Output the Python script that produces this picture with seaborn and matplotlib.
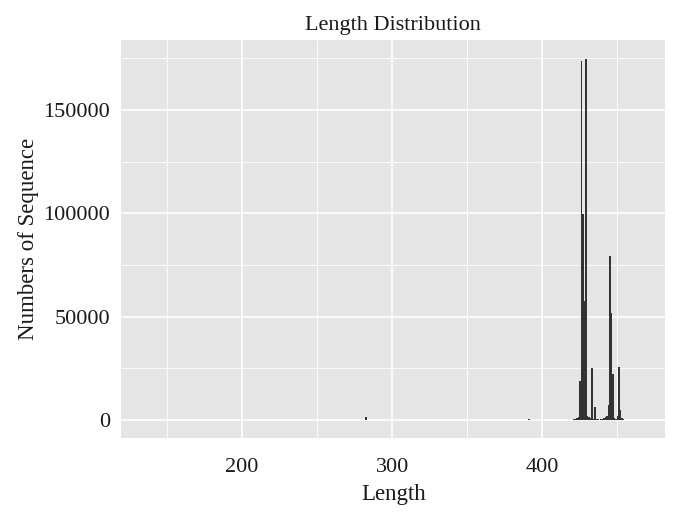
import matplotlib
matplotlib.use("Agg")
import matplotlib.pyplot as plt
import seaborn as sns
import pandas as pd
from matplotlib.ticker import MultipleLocator

# ---- data ----
lengths = [137, 141, 146, 150, 153, 157, 161, 164, 168, 171, 175, 179, 182, 186,
           190, 193, 197, 201, 204, 208, 212, 215, 219, 223, 226, 230, 234, 237,
           241, 245, 249, 252, 256, 260, 264, 268, 271, 275, 279, 282, 283, 286, 290,
           294, 298, 302, 306, 310, 314, 318, 322, 326, 330, 335, 340, 345, 350,
           356, 362, 368, 374, 380, 386, 391, 395, 400, 405, 410, 415, 419,
           420, 421, 422, 423, 424, 425, 426, 427, 428, 429, 430, 431, 432, 433,
           434, 435, 436, 437, 438, 439, 440, 441, 442, 443, 444, 445, 446, 447,
           448, 449, 450, 451, 452, 453, 454, 456, 458, 460, 463]
counts = [60, 40, 80, 60, 100, 80, 120, 100, 80, 120, 100, 140, 80, 120,
          100, 120, 80, 100, 120, 80, 100, 120, 80, 140, 100, 120, 80, 100,
          120, 80, 100, 120, 80, 100, 120, 80, 100, 120, 100, 1300, 1700, 120, 100,
          80, 100, 120, 80, 100, 80, 120, 100, 80, 100, 80, 100, 120, 80,
          100, 80, 100, 80, 100, 120, 600, 100, 80, 100, 120, 100, 150,
          200, 300, 500, 800, 1500, 19000, 173500, 99500, 57500, 174500, 2000, 1500, 1200, 25000,
          600, 6500, 300, 400, 200, 300, 500, 800, 1500, 2000, 7500, 79500, 52000, 22300,
          1200, 600, 1900, 25500, 4800, 800, 300, 150, 100, 120, 60]

df = pd.DataFrame({"Length": lengths, "Count": counts})

sns.set_theme(style="darkgrid")
plt.rcParams["font.family"] = ["Liberation Serif", "DejaVu Serif"]

fig = plt.figure(figsize=(6.78, 5.21), dpi=100)
ax = fig.add_axes([0.179, 0.159, 0.802, 0.764])
ax.set_facecolor("#E5E5E5")

sns.barplot(data=df, x="Length", y="Count", native_scale=True, width=0.9,
            color="#333333", saturation=1, edgecolor="none", ax=ax)

ax.set_xlim(119.5, 481.8)
ax.set_ylim(-8750, 183750)
ax.xaxis.set_major_locator(MultipleLocator(100))
ax.xaxis.set_minor_locator(MultipleLocator(50))
ax.yaxis.set_major_locator(MultipleLocator(50000))
ax.yaxis.set_minor_locator(MultipleLocator(25000))
ax.grid(which="major", color="white", linewidth=1.2)
ax.grid(which="minor", color="white", linewidth=0.6)
ax.set_axisbelow(True)
for s in ax.spines.values():
    s.set_visible(False)

ax.tick_params(axis="both", which="major", length=4, width=1, color="#333333",
               labelsize=16, labelcolor="#1a1a1a")
ax.tick_params(axis="x", which="major", pad=10)
ax.tick_params(axis="y", which="major", pad=4)
ax.tick_params(axis="both", which="minor", length=0)
ax.set_title("Length Distribution", fontsize=16, color="#1a1a1a", pad=7)
ax.set_xlabel("Length", fontsize=16.5, color="#1a1a1a", labelpad=5)
ax.set_ylabel("Numbers of Sequence", fontsize=16.5, color="#1a1a1a", labelpad=3)

fig.savefig("out.png", dpi=100)
